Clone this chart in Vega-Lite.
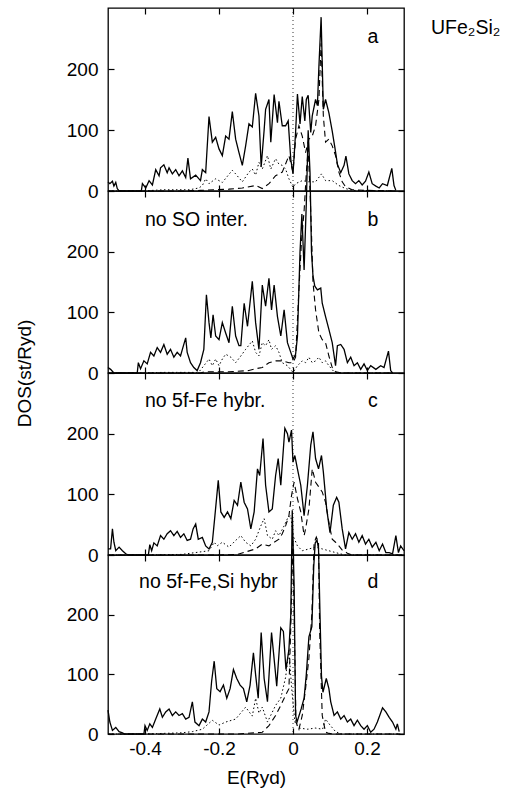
{
"$schema": "https://vega.github.io/schema/vega-lite/v6.json",
"autosize": {"type": "pad"},
"padding": {"left": 14, "top": 6, "right": 0, "bottom": 0},
"spacing": 0,
"bounds": "flush",
"config": {
  "font": "Liberation Sans",
  "view": {"stroke": "black", "strokeWidth": 1.3},
  "concat": {"spacing": 0},
  "axis": {"domain": false, "grid": false, "ticks": true, "tickColor": "black", "tickSize": -6, "tickWidth": 1.2,
    "labelFont": "Liberation Sans", "labelFontSize": 19, "labelColor": "black", "labelPadding": 16,
    "titleFont": "Liberation Sans", "titleFontSize": 19, "titleFontWeight": "normal", "titleColor": "black"},
  "text": {"font": "Liberation Sans", "fontSize": 19.5, "color": "black"}
},
"datasets": {
"a_t": [{"E":-0.5,"v":15},{"E":-0.495,"v":12},{"E":-0.488,"v":16},{"E":-0.484,"v":8},{"E":-0.479,"v":14},{"E":-0.475,"v":4},{"E":-0.47,"v":0},{"E":-0.41,"v":0},{"E":-0.407,"v":12},{"E":-0.398,"v":5},{"E":-0.389,"v":17},{"E":-0.38,"v":10},{"E":-0.371,"v":35},{"E":-0.362,"v":25},{"E":-0.358,"v":38},{"E":-0.349,"v":43},{"E":-0.34,"v":30},{"E":-0.335,"v":38},{"E":-0.326,"v":28},{"E":-0.317,"v":35},{"E":-0.308,"v":25},{"E":-0.299,"v":33},{"E":-0.29,"v":22},{"E":-0.284,"v":54},{"E":-0.277,"v":20},{"E":-0.263,"v":26},{"E":-0.25,"v":17},{"E":-0.245,"v":35},{"E":-0.236,"v":30},{"E":-0.227,"v":122},{"E":-0.218,"v":80},{"E":-0.209,"v":88},{"E":-0.2,"v":69},{"E":-0.191,"v":58},{"E":-0.182,"v":90},{"E":-0.173,"v":85},{"E":-0.164,"v":130},{"E":-0.155,"v":85},{"E":-0.146,"v":63},{"E":-0.137,"v":42},{"E":-0.128,"v":74},{"E":-0.119,"v":110},{"E":-0.11,"v":105},{"E":-0.101,"v":160},{"E":-0.092,"v":123},{"E":-0.086,"v":40},{"E":-0.078,"v":100},{"E":-0.074,"v":134},{"E":-0.065,"v":150},{"E":-0.06,"v":80},{"E":-0.051,"v":158},{"E":-0.042,"v":112},{"E":-0.038,"v":147},{"E":-0.029,"v":107},{"E":-0.02,"v":107},{"E":-0.013,"v":115},{"E":-0.006,"v":52},{"E":0,"v":28},{"E":0.007,"v":96},{"E":0.012,"v":159},{"E":0.019,"v":110},{"E":0.025,"v":155},{"E":0.032,"v":115},{"E":0.036,"v":150},{"E":0.041,"v":157},{"E":0.048,"v":96},{"E":0.052,"v":123},{"E":0.061,"v":150},{"E":0.066,"v":140},{"E":0.07,"v":204},{"E":0.076,"v":285},{"E":0.082,"v":134},{"E":0.088,"v":150},{"E":0.097,"v":128},{"E":0.106,"v":98},{"E":0.113,"v":72},{"E":0.12,"v":44},{"E":0.129,"v":30},{"E":0.138,"v":42},{"E":0.143,"v":57},{"E":0.151,"v":28},{"E":0.16,"v":17},{"E":0.169,"v":12},{"E":0.178,"v":17},{"E":0.187,"v":10},{"E":0.196,"v":16},{"E":0.205,"v":31},{"E":0.214,"v":12},{"E":0.224,"v":8},{"E":0.233,"v":5},{"E":0.242,"v":12},{"E":0.255,"v":9},{"E":0.267,"v":37},{"E":0.273,"v":9},{"E":0.278,"v":1}],
"a_d": [{"E":-0.5,"v":0},{"E":-0.3,"v":0},{"E":-0.25,"v":1},{"E":-0.173,"v":3},{"E":-0.137,"v":5},{"E":-0.101,"v":9},{"E":-0.083,"v":4},{"E":-0.065,"v":12},{"E":-0.047,"v":25},{"E":-0.029,"v":31},{"E":-0.011,"v":58},{"E":0,"v":31},{"E":0.007,"v":85},{"E":0.016,"v":107},{"E":0.025,"v":90},{"E":0.034,"v":63},{"E":0.043,"v":85},{"E":0.052,"v":90},{"E":0.061,"v":107},{"E":0.07,"v":150},{"E":0.076,"v":242},{"E":0.082,"v":123},{"E":0.088,"v":80},{"E":0.097,"v":85},{"E":0.106,"v":74},{"E":0.115,"v":58},{"E":0.124,"v":31},{"E":0.133,"v":15},{"E":0.142,"v":7},{"E":0.16,"v":2},{"E":0.2,"v":1},{"E":0.28,"v":0}],
"a_o": [{"E":-0.5,"v":0},{"E":-0.41,"v":0},{"E":-0.35,"v":2},{"E":-0.28,"v":2},{"E":-0.254,"v":5},{"E":-0.245,"v":9},{"E":-0.236,"v":20},{"E":-0.227,"v":12},{"E":-0.209,"v":20},{"E":-0.191,"v":14},{"E":-0.164,"v":34},{"E":-0.155,"v":28},{"E":-0.137,"v":15},{"E":-0.119,"v":31},{"E":-0.11,"v":36},{"E":-0.101,"v":26},{"E":-0.092,"v":47},{"E":-0.083,"v":36},{"E":-0.069,"v":58},{"E":-0.06,"v":36},{"E":-0.047,"v":53},{"E":-0.038,"v":44},{"E":-0.029,"v":42},{"E":-0.02,"v":36},{"E":-0.011,"v":20},{"E":0,"v":6},{"E":0.007,"v":12},{"E":0.025,"v":17},{"E":0.043,"v":15},{"E":0.061,"v":15},{"E":0.077,"v":28},{"E":0.088,"v":17},{"E":0.106,"v":17},{"E":0.124,"v":9},{"E":0.142,"v":4},{"E":0.16,"v":1},{"E":0.28,"v":0}],
"b_t": [{"E":-0.5,"v":9},{"E":-0.493,"v":6},{"E":-0.484,"v":0},{"E":-0.421,"v":0},{"E":-0.418,"v":17},{"E":-0.412,"v":7},{"E":-0.403,"v":20},{"E":-0.394,"v":15},{"E":-0.385,"v":34},{"E":-0.376,"v":28},{"E":-0.367,"v":42},{"E":-0.358,"v":34},{"E":-0.349,"v":47},{"E":-0.34,"v":31},{"E":-0.331,"v":39},{"E":-0.322,"v":26},{"E":-0.313,"v":34},{"E":-0.304,"v":28},{"E":-0.299,"v":39},{"E":-0.29,"v":58},{"E":-0.286,"v":34},{"E":-0.277,"v":17},{"E":-0.268,"v":9},{"E":-0.259,"v":4},{"E":-0.25,"v":17},{"E":-0.241,"v":39},{"E":-0.234,"v":129},{"E":-0.227,"v":83},{"E":-0.222,"v":58},{"E":-0.216,"v":96},{"E":-0.209,"v":61},{"E":-0.2,"v":55},{"E":-0.191,"v":83},{"E":-0.182,"v":66},{"E":-0.173,"v":50},{"E":-0.164,"v":110},{"E":-0.155,"v":61},{"E":-0.146,"v":45},{"E":-0.141,"v":45},{"E":-0.132,"v":115},{"E":-0.123,"v":77},{"E":-0.11,"v":151},{"E":-0.101,"v":83},{"E":-0.092,"v":39},{"E":-0.083,"v":145},{"E":-0.074,"v":110},{"E":-0.065,"v":156},{"E":-0.058,"v":104},{"E":-0.051,"v":145},{"E":-0.042,"v":93},{"E":-0.033,"v":61},{"E":-0.024,"v":104},{"E":-0.015,"v":50},{"E":-0.006,"v":34},{"E":0,"v":23},{"E":0.007,"v":31},{"E":0.012,"v":60},{"E":0.019,"v":200},{"E":0.024,"v":262},{"E":0.03,"v":170},{"E":0.036,"v":280},{"E":0.041,"v":400},{"E":0.046,"v":330},{"E":0.05,"v":200},{"E":0.054,"v":160},{"E":0.059,"v":143},{"E":0.066,"v":137},{"E":0.075,"v":140},{"E":0.079,"v":115},{"E":0.088,"v":93},{"E":0.097,"v":72},{"E":0.106,"v":50},{"E":0.115,"v":12},{"E":0.12,"v":45},{"E":0.129,"v":47},{"E":0.138,"v":39},{"E":0.147,"v":17},{"E":0.156,"v":26},{"E":0.165,"v":12},{"E":0.174,"v":17},{"E":0.183,"v":6},{"E":0.192,"v":15},{"E":0.201,"v":4},{"E":0.21,"v":12},{"E":0.224,"v":6},{"E":0.237,"v":12},{"E":0.246,"v":9},{"E":0.258,"v":36},{"E":0.264,"v":4},{"E":0.269,"v":0}],
"b_d": [{"E":-0.5,"v":0},{"E":-0.25,"v":0},{"E":-0.24,"v":2},{"E":-0.173,"v":2},{"E":-0.119,"v":4},{"E":-0.101,"v":7},{"E":-0.083,"v":9},{"E":-0.065,"v":17},{"E":-0.047,"v":20},{"E":-0.029,"v":20},{"E":-0.011,"v":17},{"E":0,"v":17},{"E":0.007,"v":26},{"E":0.016,"v":137},{"E":0.023,"v":218},{"E":0.03,"v":267},{"E":0.036,"v":330},{"E":0.041,"v":370},{"E":0.046,"v":300},{"E":0.05,"v":230},{"E":0.054,"v":150},{"E":0.061,"v":104},{"E":0.07,"v":66},{"E":0.079,"v":55},{"E":0.088,"v":50},{"E":0.097,"v":28},{"E":0.106,"v":9},{"E":0.115,"v":2},{"E":0.13,"v":0},{"E":0.27,"v":0}],
"b_o": [{"E":-0.5,"v":0},{"E":-0.42,"v":0},{"E":-0.35,"v":1},{"E":-0.26,"v":1},{"E":-0.254,"v":2},{"E":-0.241,"v":12},{"E":-0.227,"v":23},{"E":-0.218,"v":12},{"E":-0.209,"v":23},{"E":-0.2,"v":12},{"E":-0.191,"v":23},{"E":-0.182,"v":31},{"E":-0.168,"v":26},{"E":-0.155,"v":17},{"E":-0.141,"v":28},{"E":-0.128,"v":39},{"E":-0.11,"v":53},{"E":-0.101,"v":34},{"E":-0.092,"v":28},{"E":-0.083,"v":50},{"E":-0.074,"v":45},{"E":-0.065,"v":55},{"E":-0.058,"v":39},{"E":-0.047,"v":45},{"E":-0.038,"v":34},{"E":-0.029,"v":17},{"E":-0.015,"v":12},{"E":0,"v":1},{"E":0.012,"v":12},{"E":0.025,"v":20},{"E":0.034,"v":17},{"E":0.043,"v":26},{"E":0.052,"v":17},{"E":0.061,"v":20},{"E":0.07,"v":26},{"E":0.079,"v":17},{"E":0.088,"v":20},{"E":0.097,"v":12},{"E":0.111,"v":2},{"E":0.13,"v":0},{"E":0.27,"v":0}],
"c_t": [{"E":-0.5,"v":10},{"E":-0.493,"v":10},{"E":-0.488,"v":43},{"E":-0.484,"v":21},{"E":-0.479,"v":7},{"E":-0.47,"v":13},{"E":-0.461,"v":7},{"E":-0.452,"v":2},{"E":-0.445,"v":0},{"E":-0.391,"v":0},{"E":-0.387,"v":17},{"E":-0.382,"v":7},{"E":-0.376,"v":20},{"E":-0.367,"v":15},{"E":-0.358,"v":32},{"E":-0.349,"v":26},{"E":-0.34,"v":35},{"E":-0.331,"v":40},{"E":-0.322,"v":32},{"E":-0.313,"v":39},{"E":-0.304,"v":29},{"E":-0.295,"v":35},{"E":-0.286,"v":24},{"E":-0.277,"v":26},{"E":-0.27,"v":43},{"E":-0.263,"v":51},{"E":-0.256,"v":26},{"E":-0.245,"v":29},{"E":-0.236,"v":15},{"E":-0.227,"v":10},{"E":-0.218,"v":21},{"E":-0.211,"v":65},{"E":-0.202,"v":123},{"E":-0.195,"v":71},{"E":-0.186,"v":62},{"E":-0.177,"v":71},{"E":-0.168,"v":60},{"E":-0.159,"v":90},{"E":-0.15,"v":82},{"E":-0.141,"v":120},{"E":-0.132,"v":87},{"E":-0.123,"v":76},{"E":-0.114,"v":43},{"E":-0.105,"v":71},{"E":-0.096,"v":142},{"E":-0.09,"v":131},{"E":-0.081,"v":192},{"E":-0.074,"v":115},{"E":-0.065,"v":71},{"E":-0.056,"v":76},{"E":-0.047,"v":131},{"E":-0.04,"v":159},{"E":-0.033,"v":115},{"E":-0.022,"v":209},{"E":-0.015,"v":200},{"E":-0.011,"v":186},{"E":-0.004,"v":206},{"E":0,"v":153},{"E":0.005,"v":164},{"E":0.012,"v":142},{"E":0.021,"v":115},{"E":0.03,"v":65},{"E":0.039,"v":115},{"E":0.048,"v":181},{"E":0.054,"v":203},{"E":0.061,"v":159},{"E":0.069,"v":142},{"E":0.077,"v":164},{"E":0.082,"v":137},{"E":0.091,"v":76},{"E":0.1,"v":37},{"E":0.109,"v":82},{"E":0.118,"v":95},{"E":0.124,"v":87},{"E":0.133,"v":43},{"E":0.142,"v":10},{"E":0.151,"v":37},{"E":0.16,"v":26},{"E":0.169,"v":35},{"E":0.178,"v":21},{"E":0.187,"v":32},{"E":0.196,"v":18},{"E":0.205,"v":26},{"E":0.214,"v":13},{"E":0.224,"v":21},{"E":0.233,"v":7},{"E":0.242,"v":18},{"E":0.251,"v":4},{"E":0.26,"v":4},{"E":0.269,"v":2},{"E":0.278,"v":32},{"E":0.285,"v":4},{"E":0.291,"v":15},{"E":0.3,"v":7}],
"c_d": [{"E":-0.5,"v":0},{"E":-0.2,"v":0},{"E":-0.15,"v":1},{"E":-0.101,"v":10},{"E":-0.083,"v":18},{"E":-0.065,"v":15},{"E":-0.051,"v":21},{"E":-0.038,"v":26},{"E":-0.029,"v":35},{"E":-0.02,"v":48},{"E":-0.011,"v":65},{"E":-0.004,"v":98},{"E":0.003,"v":120},{"E":0.012,"v":93},{"E":0.021,"v":71},{"E":0.03,"v":32},{"E":0.034,"v":43},{"E":0.043,"v":76},{"E":0.052,"v":142},{"E":0.061,"v":120},{"E":0.07,"v":112},{"E":0.079,"v":104},{"E":0.088,"v":87},{"E":0.097,"v":54},{"E":0.106,"v":26},{"E":0.115,"v":21},{"E":0.124,"v":15},{"E":0.133,"v":8},{"E":0.147,"v":3},{"E":0.16,"v":0},{"E":0.3,"v":0}],
"c_o": [{"E":-0.5,"v":0},{"E":-0.4,"v":0},{"E":-0.3,"v":1},{"E":-0.227,"v":7},{"E":-0.213,"v":21},{"E":-0.205,"v":15},{"E":-0.191,"v":21},{"E":-0.173,"v":13},{"E":-0.155,"v":24},{"E":-0.141,"v":32},{"E":-0.128,"v":21},{"E":-0.114,"v":15},{"E":-0.101,"v":26},{"E":-0.087,"v":48},{"E":-0.078,"v":60},{"E":-0.069,"v":32},{"E":-0.056,"v":26},{"E":-0.047,"v":40},{"E":-0.038,"v":32},{"E":-0.024,"v":48},{"E":-0.015,"v":60},{"E":-0.006,"v":65},{"E":0,"v":32},{"E":0.012,"v":15},{"E":0.025,"v":7},{"E":0.043,"v":10},{"E":0.061,"v":13},{"E":0.079,"v":10},{"E":0.097,"v":7},{"E":0.115,"v":4},{"E":0.14,"v":0},{"E":0.3,"v":0}],
"d_t": [{"E":-0.5,"v":40},{"E":-0.495,"v":20},{"E":-0.488,"v":6},{"E":-0.479,"v":11},{"E":-0.47,"v":4},{"E":-0.461,"v":2},{"E":-0.455,"v":0},{"E":-0.403,"v":0},{"E":-0.4,"v":14},{"E":-0.394,"v":6},{"E":-0.387,"v":17},{"E":-0.38,"v":11},{"E":-0.371,"v":25},{"E":-0.36,"v":42},{"E":-0.353,"v":28},{"E":-0.344,"v":37},{"E":-0.335,"v":42},{"E":-0.326,"v":31},{"E":-0.317,"v":37},{"E":-0.308,"v":31},{"E":-0.299,"v":34},{"E":-0.29,"v":25},{"E":-0.281,"v":28},{"E":-0.272,"v":54},{"E":-0.265,"v":20},{"E":-0.254,"v":14},{"E":-0.245,"v":25},{"E":-0.236,"v":20},{"E":-0.227,"v":37},{"E":-0.22,"v":88},{"E":-0.213,"v":122},{"E":-0.206,"v":76},{"E":-0.197,"v":71},{"E":-0.188,"v":82},{"E":-0.179,"v":60},{"E":-0.17,"v":76},{"E":-0.161,"v":108},{"E":-0.152,"v":93},{"E":-0.143,"v":82},{"E":-0.134,"v":76},{"E":-0.125,"v":54},{"E":-0.116,"v":82},{"E":-0.107,"v":136},{"E":-0.101,"v":99},{"E":-0.094,"v":60},{"E":-0.086,"v":170},{"E":-0.078,"v":93},{"E":-0.069,"v":54},{"E":-0.058,"v":170},{"E":-0.049,"v":113},{"E":-0.044,"v":80},{"E":-0.033,"v":178},{"E":-0.026,"v":172},{"E":-0.019,"v":108},{"E":-0.011,"v":142},{"E":-0.006,"v":200},{"E":-0.002,"v":375},{"E":0.003,"v":250},{"E":0.007,"v":31},{"E":0.011,"v":20},{"E":0.022,"v":42},{"E":0.03,"v":60},{"E":0.036,"v":100},{"E":0.043,"v":163},{"E":0.051,"v":180},{"E":0.056,"v":280},{"E":0.06,"v":320},{"E":0.065,"v":325},{"E":0.069,"v":310},{"E":0.073,"v":200},{"E":0.077,"v":97},{"E":0.081,"v":70},{"E":0.086,"v":83},{"E":0.09,"v":93},{"E":0.097,"v":76},{"E":0.102,"v":54},{"E":0.111,"v":31},{"E":0.12,"v":37},{"E":0.129,"v":25},{"E":0.138,"v":31},{"E":0.147,"v":20},{"E":0.156,"v":25},{"E":0.165,"v":14},{"E":0.174,"v":23},{"E":0.183,"v":14},{"E":0.192,"v":8},{"E":0.201,"v":14},{"E":0.21,"v":3},{"E":0.219,"v":8},{"E":0.228,"v":20},{"E":0.242,"v":44},{"E":0.251,"v":37},{"E":0.26,"v":28},{"E":0.269,"v":20},{"E":0.278,"v":8},{"E":0.282,"v":17},{"E":0.287,"v":4}],
"d_d": [{"E":-0.5,"v":0},{"E":-0.15,"v":0},{"E":-0.101,"v":2},{"E":-0.083,"v":3},{"E":-0.065,"v":14},{"E":-0.047,"v":31},{"E":-0.033,"v":48},{"E":-0.02,"v":65},{"E":-0.011,"v":76},{"E":-0.005,"v":200},{"E":-0.001,"v":330},{"E":0.003,"v":200},{"E":0.008,"v":20},{"E":0.016,"v":8},{"E":0.025,"v":31},{"E":0.034,"v":76},{"E":0.043,"v":127},{"E":0.051,"v":201},{"E":0.057,"v":320},{"E":0.063,"v":330},{"E":0.069,"v":320},{"E":0.072,"v":173},{"E":0.079,"v":31},{"E":0.088,"v":3},{"E":0.097,"v":1},{"E":0.11,"v":0},{"E":0.29,"v":0}],
"d_o": [{"E":-0.5,"v":0},{"E":-0.4,"v":0},{"E":-0.3,"v":2},{"E":-0.272,"v":4},{"E":-0.245,"v":8},{"E":-0.218,"v":23},{"E":-0.2,"v":15},{"E":-0.182,"v":20},{"E":-0.155,"v":25},{"E":-0.128,"v":45},{"E":-0.11,"v":30},{"E":-0.101,"v":60},{"E":-0.092,"v":35},{"E":-0.083,"v":45},{"E":-0.069,"v":20},{"E":-0.047,"v":48},{"E":-0.033,"v":60},{"E":-0.02,"v":95},{"E":-0.011,"v":140},{"E":-0.004,"v":80},{"E":0.005,"v":20},{"E":0.016,"v":10},{"E":0.04,"v":8},{"E":0.06,"v":10},{"E":0.08,"v":8},{"E":0.088,"v":25},{"E":0.1,"v":15},{"E":0.115,"v":4},{"E":0.13,"v":0},{"E":0.29,"v":0}]
},
"vconcat": [
{
 "width": 296, "height": 183,
 "resolve": {"axis": {"x": "independent", "y": "independent"}},
 "layer": [
  {"data": {"name": "a_o"}, "mark": {"type": "line", "color": "black", "strokeWidth": 1, "strokeDash": [1.5, 2.5]},
   "encoding": {"x": {"field": "E", "type": "quantitative", "scale": {"domain": [-0.5, 0.3], "nice": false, "zero": false}, "axis": {"values": [-0.4, -0.2, 0, 0.2], "labels": false, "title": null}},
                "y": {"field": "v", "type": "quantitative", "scale": {"domain": [0, 300], "nice": false}, "axis": {"values": [0, 100, 200], "title": null}}}},
  {"data": {"name": "a_d"}, "mark": {"type": "line", "color": "black", "strokeWidth": 1.1, "strokeDash": [6, 4]},
   "encoding": {"x": {"field": "E", "type": "quantitative", "scale": {"domain": [-0.5, 0.3], "nice": false, "zero": false}, "axis": {"orient": "top", "values": [-0.4, -0.2, 0, 0.2], "labels": false, "title": null}},
                "y": {"field": "v", "type": "quantitative", "scale": {"domain": [0, 300], "nice": false}, "axis": {"orient": "right", "values": [0, 100, 200], "labels": false, "title": null}}}},
  {"data": {"name": "a_t"}, "mark": {"type": "line", "color": "black", "strokeWidth": 1.3},
   "encoding": {"x": {"field": "E", "type": "quantitative", "scale": {"domain": [-0.5, 0.3], "nice": false, "zero": false}, "axis": null},
                "y": {"field": "v", "type": "quantitative", "scale": {"domain": [0, 300], "nice": false}, "axis": null}}},
  {"data": {"values": [{}]}, "mark": {"type": "rule", "color": "black", "strokeWidth": 0.8, "strokeDash": [1, 3]},
   "encoding": {"x": {"datum": 0, "type": "quantitative", "scale": {"domain": [-0.5, 0.3], "nice": false, "zero": false}, "axis": null}}},
  {"data": {"values": [{"label": "a"}]}, "mark": {"type": "text", "align": "center", "baseline": "middle"},
   "encoding": {"text": {"field": "label"}, "x": {"datum": 0.216, "type": "quantitative", "axis": null}, "y": {"datum": 252, "type": "quantitative", "axis": null}}},
  {"data": {"values": [{"label": "UFe₂Si₂"}]}, "mark": {"type": "text", "align": "left", "baseline": "alphabetic"},
   "encoding": {"text": {"field": "label"}, "x": {"datum": 0.373, "type": "quantitative", "axis": null}, "y": {"datum": 257, "type": "quantitative", "axis": null}}}
 ]
},
{
 "width": 296, "height": 182,
 "resolve": {"axis": {"x": "independent", "y": "independent"}},
 "layer": [
  {"data": {"name": "b_o"}, "mark": {"type": "line", "color": "black", "strokeWidth": 1, "strokeDash": [1.5, 2.5]},
   "encoding": {"x": {"field": "E", "type": "quantitative", "scale": {"domain": [-0.5, 0.3], "nice": false, "zero": false}, "axis": {"values": [-0.4, -0.2, 0, 0.2], "labels": false, "title": null}},
                "y": {"field": "v", "type": "quantitative", "scale": {"domain": [0, 300], "nice": false}, "axis": {"values": [0, 100, 200], "title": "DOS(st/Ryd)", "titleX": -74, "titleY": 182}}}},
  {"data": {"name": "b_d"}, "mark": {"type": "line", "color": "black", "strokeWidth": 1.1, "strokeDash": [6, 4]},
   "encoding": {"x": {"field": "E", "type": "quantitative", "scale": {"domain": [-0.5, 0.3], "nice": false, "zero": false}, "axis": {"orient": "top", "values": [-0.4, -0.2, 0, 0.2], "labels": false, "title": null}},
                "y": {"field": "v", "type": "quantitative", "scale": {"domain": [0, 300], "nice": false}, "axis": {"orient": "right", "values": [0, 100, 200], "labels": false, "title": null}}}},
  {"data": {"name": "b_t"}, "mark": {"type": "line", "color": "black", "strokeWidth": 1.3},
   "encoding": {"x": {"field": "E", "type": "quantitative", "scale": {"domain": [-0.5, 0.3], "nice": false, "zero": false}, "axis": null},
                "y": {"field": "v", "type": "quantitative", "scale": {"domain": [0, 300], "nice": false}, "axis": null}}},
  {"data": {"values": [{}]}, "mark": {"type": "rule", "color": "black", "strokeWidth": 0.8, "strokeDash": [1, 3]},
   "encoding": {"x": {"datum": 0, "type": "quantitative", "scale": {"domain": [-0.5, 0.3], "nice": false, "zero": false}, "axis": null}}},
  {"data": {"values": [{"label": "b"}]}, "mark": {"type": "text", "align": "center", "baseline": "middle"},
   "encoding": {"text": {"field": "label"}, "x": {"datum": 0.216, "type": "quantitative", "axis": null}, "y": {"datum": 252, "type": "quantitative", "axis": null}}},
  {"data": {"values": [{"label": "no SO inter."}]}, "mark": {"type": "text", "align": "left", "baseline": "middle"},
   "encoding": {"text": {"field": "label"}, "x": {"datum": -0.4, "type": "quantitative", "axis": null}, "y": {"datum": 252, "type": "quantitative", "axis": null}}}
 ]
},
{
 "width": 296, "height": 182,
 "resolve": {"axis": {"x": "independent", "y": "independent"}},
 "layer": [
  {"data": {"name": "c_o"}, "mark": {"type": "line", "color": "black", "strokeWidth": 1, "strokeDash": [1.5, 2.5]},
   "encoding": {"x": {"field": "E", "type": "quantitative", "scale": {"domain": [-0.5, 0.3], "nice": false, "zero": false}, "axis": {"values": [-0.4, -0.2, 0, 0.2], "labels": false, "title": null}},
                "y": {"field": "v", "type": "quantitative", "scale": {"domain": [0, 300], "nice": false}, "axis": {"values": [0, 100, 200], "title": null}}}},
  {"data": {"name": "c_d"}, "mark": {"type": "line", "color": "black", "strokeWidth": 1.1, "strokeDash": [6, 4]},
   "encoding": {"x": {"field": "E", "type": "quantitative", "scale": {"domain": [-0.5, 0.3], "nice": false, "zero": false}, "axis": {"orient": "top", "values": [-0.4, -0.2, 0, 0.2], "labels": false, "title": null}},
                "y": {"field": "v", "type": "quantitative", "scale": {"domain": [0, 300], "nice": false}, "axis": {"orient": "right", "values": [0, 100, 200], "labels": false, "title": null}}}},
  {"data": {"name": "c_t"}, "mark": {"type": "line", "color": "black", "strokeWidth": 1.3},
   "encoding": {"x": {"field": "E", "type": "quantitative", "scale": {"domain": [-0.5, 0.3], "nice": false, "zero": false}, "axis": null},
                "y": {"field": "v", "type": "quantitative", "scale": {"domain": [0, 300], "nice": false}, "axis": null}}},
  {"data": {"values": [{}]}, "mark": {"type": "rule", "color": "black", "strokeWidth": 0.8, "strokeDash": [1, 3]},
   "encoding": {"x": {"datum": 0, "type": "quantitative", "scale": {"domain": [-0.5, 0.3], "nice": false, "zero": false}, "axis": null}}},
  {"data": {"values": [{"label": "c"}]}, "mark": {"type": "text", "align": "center", "baseline": "middle"},
   "encoding": {"text": {"field": "label"}, "x": {"datum": 0.216, "type": "quantitative", "axis": null}, "y": {"datum": 254, "type": "quantitative", "axis": null}}},
  {"data": {"values": [{"label": "no 5f-Fe hybr."}]}, "mark": {"type": "text", "align": "left", "baseline": "middle"},
   "encoding": {"text": {"field": "label"}, "x": {"datum": -0.4, "type": "quantitative", "axis": null}, "y": {"datum": 254, "type": "quantitative", "axis": null}}}
 ]
},
{
 "width": 296, "height": 179,
 "resolve": {"axis": {"x": "independent", "y": "independent"}},
 "layer": [
  {"data": {"name": "d_o"}, "mark": {"type": "line", "color": "black", "strokeWidth": 1, "strokeDash": [1.5, 2.5]},
   "encoding": {"x": {"field": "E", "type": "quantitative", "scale": {"domain": [-0.5, 0.3], "nice": false, "zero": false}, "axis": {"values": [-0.4, -0.2, 0, 0.2], "labelExpr": "datum.value + ''", "labelPadding": 11, "title": "E(Ryd)", "titlePadding": 10}},
                "y": {"field": "v", "type": "quantitative", "scale": {"domain": [0, 300], "nice": false}, "axis": {"values": [0, 100, 200], "title": null}}}},
  {"data": {"name": "d_d"}, "mark": {"type": "line", "color": "black", "strokeWidth": 1.1, "strokeDash": [6, 4]},
   "encoding": {"x": {"field": "E", "type": "quantitative", "scale": {"domain": [-0.5, 0.3], "nice": false, "zero": false}, "axis": {"orient": "top", "values": [-0.4, -0.2, 0, 0.2], "labels": false, "title": null}},
                "y": {"field": "v", "type": "quantitative", "scale": {"domain": [0, 300], "nice": false}, "axis": {"orient": "right", "values": [0, 100, 200], "labels": false, "title": null}}}},
  {"data": {"name": "d_t"}, "mark": {"type": "line", "color": "black", "strokeWidth": 1.3},
   "encoding": {"x": {"field": "E", "type": "quantitative", "scale": {"domain": [-0.5, 0.3], "nice": false, "zero": false}, "axis": null},
                "y": {"field": "v", "type": "quantitative", "scale": {"domain": [0, 300], "nice": false}, "axis": null}}},
  {"data": {"values": [{}]}, "mark": {"type": "rule", "color": "black", "strokeWidth": 0.8, "strokeDash": [1, 3]},
   "encoding": {"x": {"datum": 0, "type": "quantitative", "scale": {"domain": [-0.5, 0.3], "nice": false, "zero": false}, "axis": null}}},
  {"data": {"values": [{"label": "d"}]}, "mark": {"type": "text", "align": "center", "baseline": "middle"},
   "encoding": {"text": {"field": "label"}, "x": {"datum": 0.216, "type": "quantitative", "axis": null}, "y": {"datum": 255, "type": "quantitative", "axis": null}}},
  {"data": {"values": [{"label": "no 5f-Fe,Si hybr"}]}, "mark": {"type": "text", "align": "left", "baseline": "middle"},
   "encoding": {"text": {"field": "label"}, "x": {"datum": -0.416, "type": "quantitative", "axis": null}, "y": {"datum": 255, "type": "quantitative", "axis": null}}}
 ]
}
]
}
